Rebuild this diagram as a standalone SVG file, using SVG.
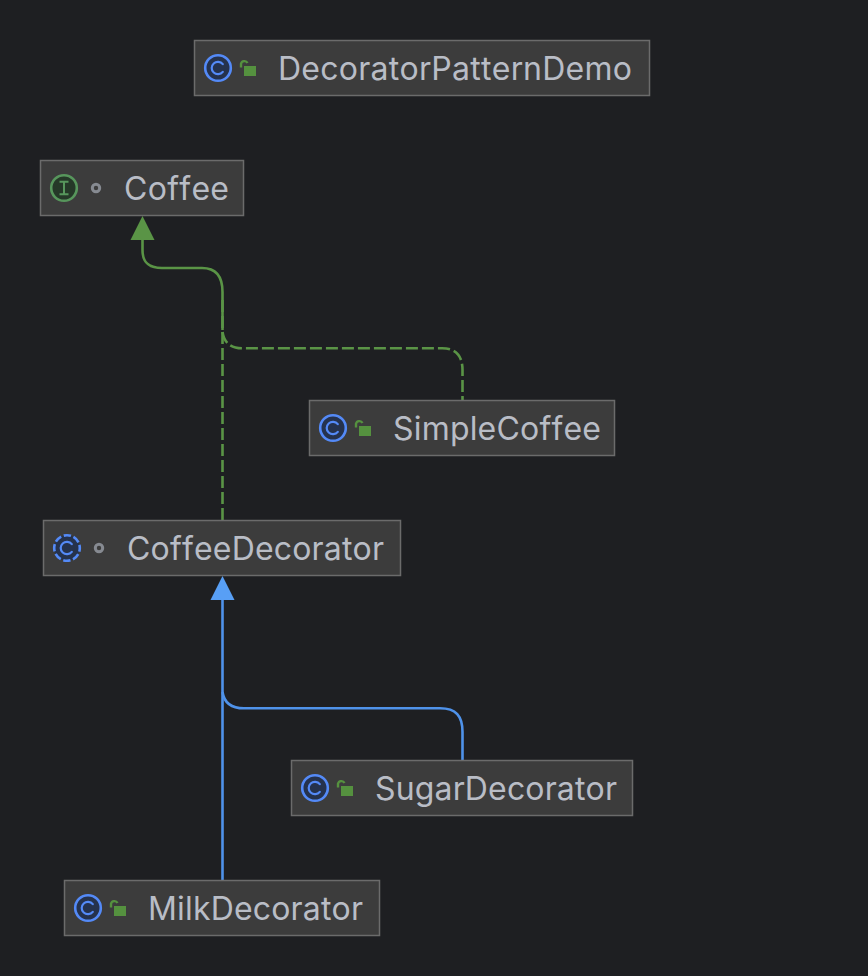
<svg xmlns="http://www.w3.org/2000/svg" width="868" height="976" viewBox="0 0 868 976">
<style>
.box{fill:#3c3c3c;stroke:#6b6b6b;stroke-width:1.5}
.t{font-family:Inter,"Noto Sans",sans-serif;font-size:32px;fill:#b9bdc6;font-variant-ligatures:none;font-kerning:none}
.ci{fill:#25324d;stroke:#548af7;stroke-width:2.6}
.cc{fill:none;stroke:#548af7;stroke-width:2.2;stroke-linecap:round}
.lk{fill:#55913f}
.ls{fill:none;stroke:#55913f;stroke-width:2.4}
.dot{fill:none;stroke:#868a91;stroke-width:3}
.g{fill:none;stroke:#5a9446;stroke-width:2.6}
.d{stroke-dasharray:12 4}
.b{fill:none;stroke:#4f92ea;stroke-width:2.6}
</style>
<defs>
<g id="cico"><circle class="ci" cx="0" cy="0" r="12.800"/><path class="cc" d="M4.800-3.800A6.200 6.200 0 1 0 4.800 3.800"/></g>
<g id="lock"><rect class="lk" x="0" y="0" width="12" height="10"/><path class="ls" d="M-3 1.500V-2.200A3.500 3.500 0 0 1 3.500-3"/></g>
</defs>
<rect width="868" height="976" fill="#1e1f22"/>
<g id="connectors">
<path class="g" d="M142.500 236V250C142.500 262 148 268 162 268H202C216 268 222.500 276 222.500 292V330"/>
<path class="g d" d="M222.500 520V296"/>
<path class="g d" d="M222.500 332C224 342 230 348.300 242 348.300H442C456 348.300 462.500 356 462.500 370V400"/>
<path fill="#5a9446" d="M142.500 216L154.500 240H130.500Z"/>
<path class="b" d="M222.500 880V598"/>
<path class="b" d="M222.500 692C224 702 230 708.300 244 708.300H440C456 708.300 462.500 716 462.500 732V760"/>
<path fill="#589ff5" d="M222.500 576L234.500 600H210.500Z"/>
</g>
<g id="DecoratorPatternDemo"><rect class="box" x="194.500" y="40.500" width="455" height="55"/><use href="#cico" x="218" y="68"/><use href="#lock" x="244" y="66"/><text class="t" x="278" y="80" textLength="354">DecoratorPatternDemo</text></g>
<g id="Coffee"><rect class="box" x="40.500" y="160.500" width="203" height="55"/><circle cx="64" cy="188" r="12.800" fill="#253828" stroke="#57965c" stroke-width="2.600"/><path d="M59.500 181.800H68.500M64 181.800V194.200M59.500 194.200H68.500" fill="none" stroke="#57965c" stroke-width="2"/><circle class="dot" cx="96" cy="188" r="3.700"/><text class="t" x="124" y="200" textLength="105">Coffee</text></g>
<g id="SimpleCoffee"><rect class="box" x="309.500" y="400.500" width="305" height="55"/><use href="#cico" x="333" y="428"/><use href="#lock" x="359" y="426"/><text class="t" x="393" y="440" textLength="208">SimpleCoffee</text></g>
<g id="CoffeeDecorator"><rect class="box" x="43.500" y="520.500" width="357" height="55"/><circle class="ci" cx="67" cy="548" r="12.800" stroke-dasharray="7.400 2.650" stroke-dashoffset="3.700"/><path class="cc" d="M71.800 544.200A6.200 6.200 0 1 0 71.800 551.800"/><circle class="dot" cx="99" cy="548" r="3.700"/><text class="t" x="127" y="560" textLength="257">CoffeeDecorator</text></g>
<g id="SugarDecorator"><rect class="box" x="291.500" y="760.500" width="341" height="55"/><use href="#cico" x="315" y="788"/><use href="#lock" x="341" y="786"/><text class="t" x="375" y="800" textLength="242">SugarDecorator</text></g>
<g id="MilkDecorator"><rect class="box" x="64.500" y="880.500" width="315" height="55"/><use href="#cico" x="88" y="908"/><use href="#lock" x="114" y="906"/><text class="t" x="148" y="920" textLength="215">MilkDecorator</text></g>
</svg>
